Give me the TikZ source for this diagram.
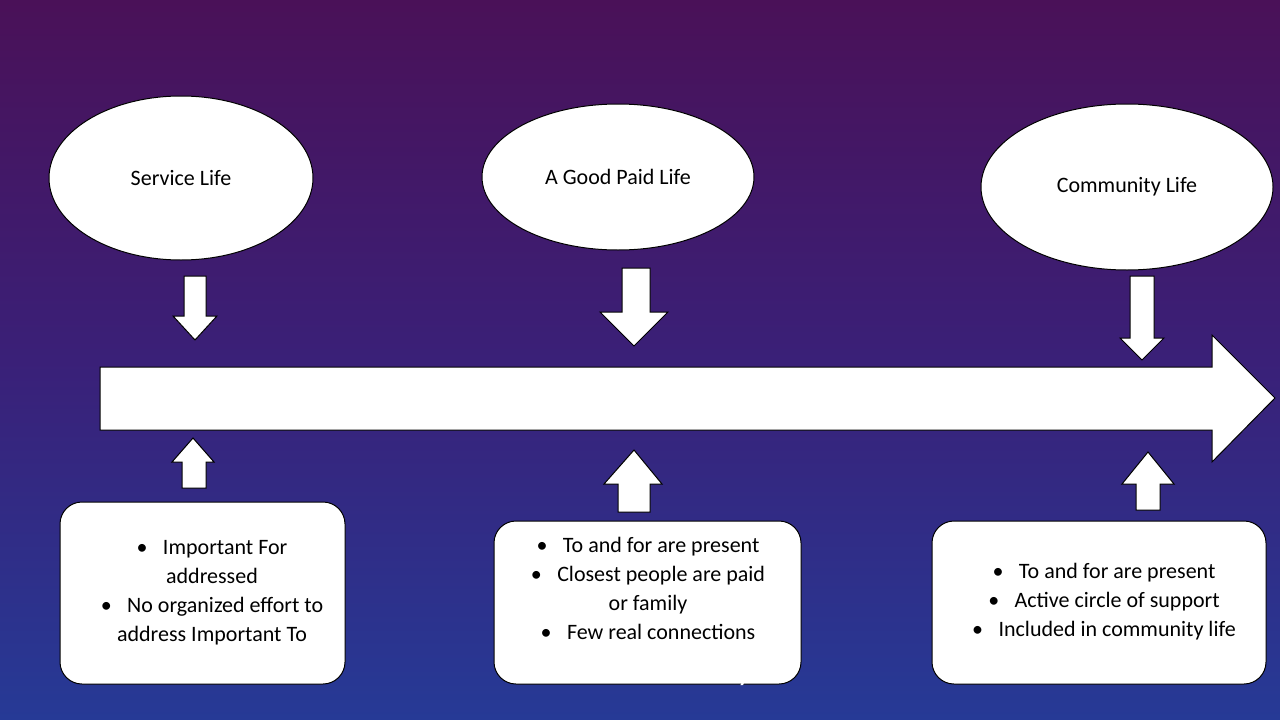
\documentclass[tikz,border=0pt]{standalone}
\usepackage{fontspec}
\setmainfont{Carlito}
\usetikzlibrary{shapes.geometric}
\definecolor{bgtop}{HTML}{4A1158}
\definecolor{bgmid}{HTML}{3A2078}
\definecolor{bgbot}{HTML}{263A96}
\begin{document}
\begin{tikzpicture}[x=1pt,y=-1pt,
  ell/.style={ellipse,draw=black,line width=1pt,fill=white,font=\fontsize{22}{26}\selectfont},
  box/.style={draw=black,line width=1pt,fill=white,rounded corners=22pt},
  txt/.style={align=center,font=\fontsize{22}{29}\selectfont},
  arr/.style={draw=black,line width=1pt,fill=white}]
\useasboundingbox (0,0) rectangle (1280,720);
\shade[top color=bgtop, bottom color=bgbot, middle color=bgmid] (0,0) rectangle (1280,720);
% ellipses
\node[ell,minimum width=264pt,minimum height=164pt] (e1) at (181,178) {Service Life};
\node[ell,minimum width=272pt,minimum height=146pt] (e2) at (618,177) {A Good Paid Life};
\node[ell,minimum width=292pt,minimum height=166pt] (e3) at (1127,187) {Community Life};
% down arrows
\draw[arr] (184,276)--(206,276)--(206,316)--(217,316)--(195,340)--(173,316)--(184,316)--cycle;
\draw[arr] (622,268)--(650,268)--(650,312)--(668,312)--(634,346)--(600,312)--(622,312)--cycle;
\draw[arr] (1130,276)--(1154,276)--(1154,338)--(1164,338)--(1142,360)--(1120,338)--(1130,338)--cycle;
% main arrow
\draw[arr] (100,367)--(1212,367)--(1212,335)--(1275,398)--(1212,462)--(1212,430)--(100,430)--cycle;
% up arrows
\draw[arr] (182,488)--(206,488)--(206,462)--(214,462)--(193,438)--(172,462)--(182,462)--cycle;
\draw[arr] (618,512)--(650,512)--(650,484)--(662,484)--(634,450)--(604,484)--(618,484)--cycle;
\draw[arr] (1136,510)--(1160,510)--(1160,484)--(1174,484)--(1148,452)--(1122,484)--(1136,484)--cycle;
% boxes
\draw[box] (60,502) rectangle (345,684);
\node[txt] (t1) at (212,593) {•\hspace{0.7em}Important For\\addressed\\•\hspace{0.7em}No organized effort to\\address Important To};
\draw[box] (494,521) rectangle (801,684);
\node[txt] (t2) at (648,588) {•\hspace{0.7em}To and for are present\\•\hspace{0.7em}Closest people are paid\\or family\\•\hspace{0.7em}Few real connections};
\draw[box] (932,521) rectangle (1266,684);
\node[txt] (t3) at (1104,602) {•\hspace{0.7em}To and for are present\\•\hspace{0.7em}Active circle of support\\•\hspace{0.7em}Included in community life};
% caption
\node[font=\fontsize{32}{36}\selectfont,text=white] (c) at (640,672) {in the community.};
\end{tikzpicture}
\end{document}
